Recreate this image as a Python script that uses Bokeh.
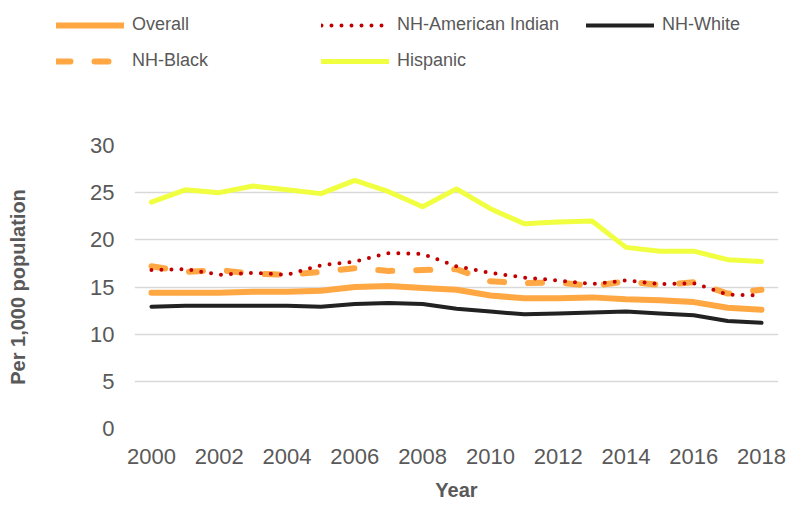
from bokeh.plotting import figure
from bokeh.models import Range1d, FixedTicker, Legend, LegendItem
from bokeh.embed import file_html
from bokeh.resources import INLINE

years = list(range(2000, 2019))
overall = [14.4, 14.4, 14.4, 14.5, 14.5, 14.6, 15.0, 15.1, 14.9, 14.7, 14.1, 13.8, 13.8, 13.9, 13.7, 13.6, 13.4, 12.8, 12.6]
nh_american_indian = [16.8, 16.9, 16.3, 16.5, 16.3, 17.3, 17.7, 18.6, 18.5, 17.2, 16.5, 16.0, 15.7, 15.3, 15.7, 15.3, 15.4, 14.2, 14.1]
nh_white = [12.9, 13.0, 13.0, 13.0, 13.0, 12.9, 13.2, 13.3, 13.2, 12.7, 12.4, 12.1, 12.2, 12.3, 12.4, 12.2, 12.0, 11.4, 11.2]
nh_black = [17.2, 16.6, 16.8, 16.4, 16.3, 16.6, 17.0, 16.7, 16.8, 16.9, 15.6, 15.4, 15.5, 15.1, 15.6, 15.2, 15.5, 14.3, 14.7]
hispanic = [24.0, 25.3, 25.0, 25.7, 25.3, 24.9, 26.3, 25.1, 23.5, 25.4, 23.3, 21.7, 21.9, 22.0, 19.2, 18.8, 18.8, 17.9, 17.7]
series_names = ["Overall", "NH-American Indian", "NH-White", "NH-Black", "Hispanic"]
x_ticks = list(range(2000, 2019, 2))
y_ticks = [0, 5, 10, 15, 20, 25, 30]

FONT = "Liberation Sans"
GRAY = "#595959"
ORANGE = "#FFA843"
RED = "#C00000"
BLACK = "#222222"
YELLOW = "#F0FF40"

styles = {
    "Overall": dict(line_color=ORANGE, line_width=6, line_cap="round", line_join="round"),
    "NH-American Indian": dict(line_color=RED, line_width=4, line_cap="round", line_dash="0 10"),
    "NH-White": dict(line_color=BLACK, line_width=4, line_cap="round", line_join="round"),
    "NH-Black": dict(line_color=ORANGE, line_width=6, line_cap="round", line_join="round", line_dash="14 24"),
    "Hispanic": dict(line_color=YELLOW, line_width=5, line_cap="round", line_join="round"),
}
data = {
    "Overall": overall,
    "NH-American Indian": nh_american_indian,
    "NH-White": nh_white,
    "NH-Black": nh_black,
    "Hispanic": hispanic,
}

W = 787
LEG_H = 90
MAIN_H = 414

# ---- legend strip (separate root, so its frame is not aligned with the chart) ----
leg = figure(width=W, height=LEG_H, output_backend="svg", toolbar_location=None,
             x_range=Range1d(0, 1), y_range=Range1d(0, 1),
             x_axis_location=None, y_axis_location=None)
leg.min_border_left = 0
leg.min_border_right = 0
leg.min_border_top = 0
leg.min_border_bottom = 0
leg.outline_line_color = None
leg.xgrid.visible = False
leg.ygrid.visible = False

legend_pos = {
    "Overall": (56, 55),
    "NH-American Indian": (321, 55),
    "NH-White": (586, 55),
    "NH-Black": (56, 19),
    "Hispanic": (321, 19),
}
for name in series_names:
    # sample glyph only: its single segment lies outside the visible range
    r = leg.line(x=[-5, -4], y=[-5, -5], **styles[name])
    lg = Legend(items=[LegendItem(label=name, renderers=[r])], location=legend_pos[name],
                glyph_width=68, glyph_height=20, label_standoff=8, padding=0, margin=0,
                spacing=0, border_line_alpha=0, background_fill_alpha=0,
                label_text_font=FONT, label_text_font_size="18px", label_text_color=GRAY,
                label_height=20)
    leg.add_layout(lg, "center")

# ---- main chart ----
p = figure(width=W, height=MAIN_H, output_backend="svg", toolbar_location=None,
           x_range=Range1d(1999.5, 2018.5), y_range=Range1d(0, 30))
p.min_border_left = 134
p.min_border_right = 9
p.min_border_top = 55
p.min_border_bottom = 76
p.outline_line_color = None

p.xgrid.grid_line_color = None
p.ygrid.grid_line_color = "#D9D9D9"
p.ygrid.grid_line_width = 1.5
p.ygrid.ticker = FixedTicker(ticks=y_ticks)

p.xaxis.ticker = FixedTicker(ticks=x_ticks)
p.yaxis.ticker = FixedTicker(ticks=y_ticks)
for ax in (p.xaxis[0], p.yaxis[0]):
    ax.axis_line_color = None
    ax.major_tick_line_color = None
    ax.minor_tick_line_color = None
    ax.major_tick_out = 0
    ax.major_tick_in = 0
    ax.major_label_text_font = FONT
    ax.major_label_text_font_size = "22px"
    ax.major_label_text_color = GRAY
    ax.axis_label_text_font = FONT
    ax.axis_label_text_font_style = "bold"
    ax.axis_label_text_font_size = "20px"
    ax.axis_label_text_color = GRAY

p.xaxis.major_label_standoff = 20
p.yaxis.major_label_standoff = 20
p.xaxis.axis_label = "Year"
p.xaxis.axis_label_standoff = 12
p.yaxis.axis_label = "Per 1,000 population"
p.yaxis.axis_label_standoff = 58

for name in ["Overall", "NH-White", "NH-Black", "NH-American Indian", "Hispanic"]:
    p.line(years, data[name], **styles[name])

open("out.html", "w").write(file_html((leg, p), INLINE))
